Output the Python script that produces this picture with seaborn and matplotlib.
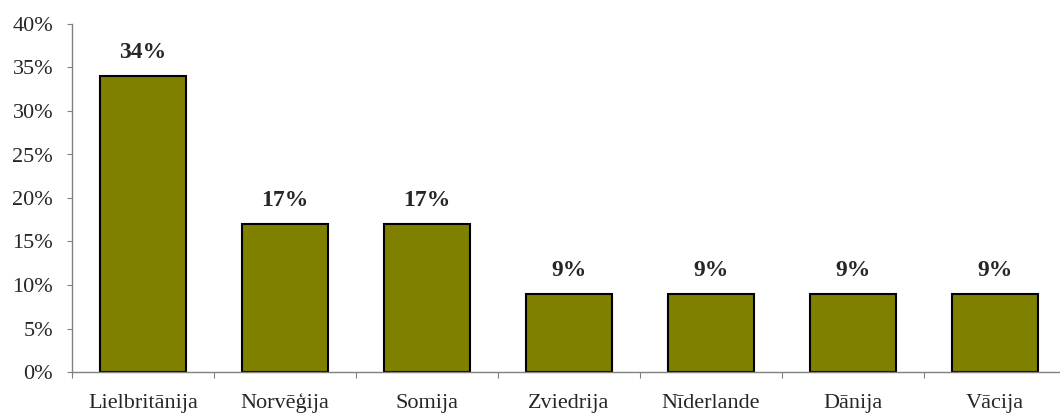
import matplotlib
matplotlib.use("Agg")
import matplotlib.pyplot as plt
import seaborn as sns
import pandas as pd
from matplotlib.ticker import FixedLocator, PercentFormatter

countries = ["Lielbritānija", "Norvēģija", "Somija", "Zviedrija", "Nīderlande", "Dānija", "Vācija"]
shares = [34, 17, 17, 9, 9, 9, 9]

sns.set_style("white")
plt.rcParams["font.family"] = ["Liberation Serif", "DejaVu Serif"]

df = pd.DataFrame({"country": countries, "share": shares})

fig = plt.figure(figsize=(10.6, 4.18), dpi=100)
ax = fig.add_axes([72 / 1060, 46 / 418, 994 / 1060, 348 / 418])

sns.barplot(data=df, x="country", y="share", color="#808000", saturation=1,
            edgecolor="black", linewidth=1.5, width=0.6, ax=ax)

for i, v in enumerate(shares):
    ax.text(i, v + 2.05, f"{v}%", ha="center", va="baseline", fontsize=17, fontweight="bold")

ax.set_xlim(-0.5, 6.5)
ax.set_ylim(0, 40)
ax.set_yticks(range(0, 41, 5))
ax.yaxis.set_major_formatter(PercentFormatter(decimals=0))
ax.set_xlabel("")
ax.set_ylabel("")

# x ticks sit between categories, labels centred under the bars
ax.xaxis.set_major_locator(FixedLocator([i + 0.5 for i in range(-1, 7)]))
ax.xaxis.set_major_formatter(plt.NullFormatter())
ax.xaxis.set_minor_locator(FixedLocator(range(len(countries))))
ax.set_xticklabels(countries, minor=True)
ax.tick_params(axis="x", which="major", direction="out", length=4.5, color="#808080", bottom=True)
ax.tick_params(axis="x", which="minor", length=0, pad=26, labelsize=16)
for lbl in ax.get_xticklabels(minor=True):
    lbl.set_verticalalignment("baseline")
ax.tick_params(axis="y", direction="out", length=3.6, color="#808080", left=True, labelsize=16, pad=10)

for side in ["top", "right"]:
    ax.spines[side].set_visible(False)
for side in ["left", "bottom"]:
    ax.spines[side].set_color("#808080")
    ax.spines[side].set_linewidth(1)

fig.savefig("out.png", dpi=100)
